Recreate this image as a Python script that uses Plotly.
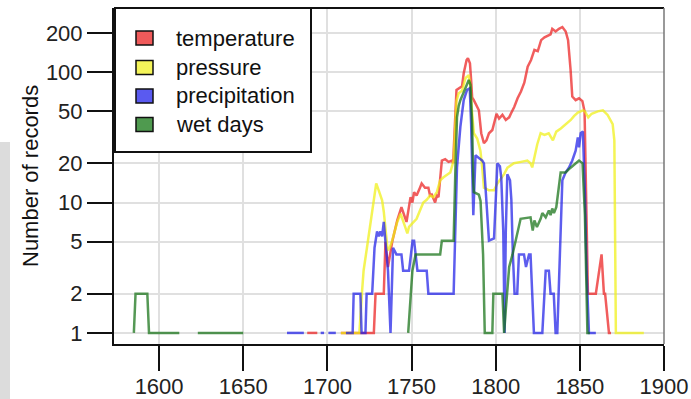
import plotly.graph_objects as go

# Number of station records per year (log scale); None marks years with no records
series_names = ["temperature", "pressure", "precipitation", "wet days"]

temp_years = [1688, 1694, None, 1708, 1727.6, 1728.6, 1733.5, 1734.5, 1736, 1738.5, 1741.5, 1744,
              1747, 1749.4, 1750.5, 1751.5, 1753, 1755, 1756, 1758, 1760, 1761, 1762, 1764, 1765,
              1766, 1768, 1770, 1772, 1774, 1774.7, 1776.7, 1778, 1780, 1781, 1782.7, 1783.5, 1784.7,
              1785.4, 1786, 1787, 1789, 1790, 1791.4, 1793, 1794.5, 1796, 1798, 1799.3, 1800.5, 1802,
              1804, 1806, 1808, 1809, 1811, 1813, 1815, 1817, 1819, 1821, 1823, 1825, 1827, 1829,
              1830.7, 1832.6, 1833.6, 1835.6, 1837.6, 1839.6, 1841.6, 1843, 1844.5, 1845.5, 1847.5,
              1849.5, 1851.5, 1852.8, 1854, 1854.8, 1859.5, 1862.9, 1864.3, 1865, 1867.3, 1868.5]
temp_counts = [1, 1, None, 1, 1, 2, 2, 5, 3.2, 5, 7.3, 9.2,
               7.1, 11, 10, 12, 11.3, 13, 14, 13, 13, 11.3, 11.5, 10, 11.3,
               11, 21, 21.5, 20.5, 21, 20, 73, 75, 78, 98, 124, 128, 117,
               87, 64, 61, 54, 51, 34, 28.5, 30, 34, 36, 41, 48, 44,
               47, 43, 45, 48, 54, 63, 71, 83, 110, 124, 148, 145, 176, 185,
               190, 195, 215, 205, 215, 222, 205, 176, 104, 65, 61,
               63, 60, 50, 7.3, 2, 2, 4, 2, 2, 1, 1]

pres_years = [1708, 1719, 1720.5, 1721.5, 1723.5, 1725.5, 1727, 1729, 1730.5, 1732.5, 1733.5, 1734.5,
              1735.8, 1737, 1738.5, 1741.5, 1743.5, 1746.4, 1747.5, 1748.5, 1751, 1753, 1755, 1757,
              1759, 1761, 1763, 1765, 1767, 1769, 1773, 1775, 1776.7, 1778, 1780, 1782, 1784, 1785,
              1785.7, 1787, 1789, 1790.9, 1792, 1793, 1796, 1799, 1801, 1805, 1807, 1810.8, 1815,
              1818.8, 1820.7, 1821.7, 1824.7, 1826.7, 1829, 1831.5, 1834, 1836, 1838.7, 1841.7,
              1844.6, 1846.5, 1848.8, 1851.8, 1853, 1855, 1857, 1860.7, 1863.7, 1866.5, 1869.5,
              1870.5, 1871.4, 1888]
pres_counts = [1, 1, 2, 3, 4.5, 6.9, 9.8, 14, 12.4, 10.4, 8.5, 6.4,
               4.3, 4.5, 5.1, 7.1, 8.2, 6.4, 5.8, 6.5, 7, 7.5, 8.7, 10,
               10.5, 11.3, 11, 12, 14.8, 15.6, 17, 21, 60, 69, 72, 90, 95, 77,
               54, 34, 31, 25, 18.6, 13, 12.4, 12.4, 14, 16.5, 18.5, 20, 20.5,
               21, 20, 18.6, 28, 34, 33, 34, 30, 35, 37, 40,
               43, 46, 49, 51, 50, 45, 48, 50, 51, 47, 40,
               30, 1, 1]

prec_years = [1676, 1686, None, 1696, 1698, None, 1700.6, 1705, None, 1711, 1715, 1715.6, 1719.6,
              1720.3, 1722.6, 1723.3, 1726.6, 1728, 1729.5, 1730.5, 1731.5, 1732.5, 1733.5, 1734.5,
              1736, 1737.5, 1739, 1741, 1744, 1745, 1748.5, 1750.6, 1751.5, 1753.5, 1759, 1760,
              1775, 1777, 1779, 1781, 1783, 1784.6, 1785.4, 1786.7, 1787.5, 1788, 1790, 1792, 1793,
              1795, 1796, 1799, 1800, 1801, 1802.5, 1803.3, 1804.5, 1805.3, 1806, 1806.9, 1808.5,
              1809.3, 1810.2, 1811.2, 1812.8, 1813.8, 1816.8, 1818, 1819.8, 1820.7, 1821.7, 1822.7,
              1827.7, 1829.7, 1831.6, 1832.6, 1834.5, 1835.6, 1836.6, 1838.6, 1839.6, 1841.5,
              1843.5, 1845.5, 1847.5, 1848.8, 1849.5, 1850.5, 1851.8, 1853, 1854, 1855.4, 1859.5]
prec_counts = [1, 1, None, 1, 1, None, 1, 1, None, 1, 1, 2, 2,
               1, 1, 2, 2, 4.5, 6, 5.5, 6, 5.5, 7.1, 5,
               3, 1, 4.5, 4, 4, 3, 3, 5.1, 5.1, 3, 3, 2,
               2, 18.6, 38, 61, 73, 75, 40, 8, 20, 23, 22, 21, 20,
               8.2, 5.1, 5.3, 10.5, 20, 19, 15.5, 6, 1, 6, 16.5, 14.8,
               10.5, 4, 2, 2, 4, 4, 3.2, 4, 4, 2, 1,
               1, 3, 3, 2, 2, 1, 1, 5.1, 14.8, 17,
               18.5, 21, 25, 31.6, 26.5, 34, 35, 12, 3, 1, 1]

wet_years = [1585, 1586, 1593, 1594, 1612, None, 1623, 1650, None, 1748, 1750.5, 1752.4, 1767, 1768,
             1775, 1776, 1777, 1778, 1779, 1781, 1783, 1784, 1785, 1786, 1786.7, 1787, 1790, 1791,
             1792.5, 1793.5, 1798, 1798.6, 1804, 1805, 1806, 1808, 1810, 1811.8, 1814.8, 1820.7,
             1822, 1823, 1824.5, 1826.7, 1827.7, 1829.7, 1831.6, 1832.6, 1833.6, 1834.6, 1836,
             1838.6, 1841.5, 1844.5, 1847.5, 1849.5, 1851.6, 1853, 1854.5, 1856]
wet_counts = [1, 2, 2, 1, 1, None, 1, 1, None, 1, 3, 4, 4, 5.1,
              5.1, 17, 45, 55, 61, 70, 80, 87, 80, 40, 14, 12, 11.5, 10.3,
              4, 1, 1, 2, 2, 1, 1.5, 3.2, 4, 5.1, 7.5, 7.7,
              6.1, 7.3, 6.5, 7.5, 8.3, 7.7, 8.7, 8, 9, 8.3, 9.2,
              17, 17, 18.5, 20, 21, 20, 8, 1, 1]

x_ticks = [1600, 1650, 1700, 1750, 1800, 1850, 1900]
y_ticks = [1, 2, 5, 10, 20, 50, 100, 200]

line_colors = ["rgba(235,30,30,0.72)", "rgba(240,240,20,0.72)",
               "rgba(30,30,232,0.72)", "rgba(20,112,20,0.72)"]
swatch_colors = ["#f05a5a", "#f5f55a", "#5a5af0", "#4f9a4f"]

FONT = "Liberation Sans, Arial, Helvetica, sans-serif"

fig = go.Figure()
for yrs, vals, col in zip([temp_years, pres_years, prec_years, wet_years],
                          [temp_counts, pres_counts, prec_counts, wet_counts],
                          line_colors):
    fig.add_trace(go.Scatter(x=yrs, y=vals, mode="lines", connectgaps=False,
                             line=dict(color=col, width=2.5), showlegend=False,
                             hoverinfo="skip"))

# plot-area geometry in pixels, used to place the hand-built legend
W, H = 691, 399
ML, MR, MT, MB = 114, 27, 8, 55
PW, PH = W - ML - MR, H - MT - MB


def px(x):
    return (x - ML) / PW


def py(y):
    return (H - MB - y) / PH


shapes = [
    # light strip at the far left edge
    dict(type="rect", xref="paper", yref="paper", x0=px(0), x1=px(10), y0=py(400), y1=py(142),
         fillcolor="#dcdcdc", line=dict(width=0), layer="below"),
    # top and right frame
    dict(type="line", xref="paper", yref="paper", x0=0, x1=1, y0=1, y1=1,
         line=dict(color="#111", width=2), layer="above"),
    dict(type="line", xref="paper", yref="paper", x0=1, x1=1, y0=0, y1=1,
         line=dict(color="#777", width=1.5), layer="above"),
    # legend box
    dict(type="rect", xref="paper", yref="paper", x0=px(115), x1=px(311), y0=py(152), y1=py(8),
         fillcolor="white", line=dict(color="#111", width=2), layer="above"),
]
annotations = []
row_centers = [38, 67.5, 96, 124.5]
for name, col, cy in zip(series_names, swatch_colors, row_centers):
    shapes.append(dict(type="rect", xref="paper", yref="paper", x0=px(136), x1=px(153),
                       y0=py(cy + 7), y1=py(cy - 7), fillcolor=col,
                       line=dict(color="#111", width=1.5), layer="above"))
    annotations.append(dict(text=name, xref="paper", yref="paper", x=px(174), y=py(cy),
                            xanchor="left", yanchor="middle", showarrow=False,
                            font=dict(family=FONT, size=22, color="#111")))

annotations.append(dict(text="Number of records", xref="paper", yref="paper", x=px(30), y=py(176),
                        textangle=-90, xanchor="center", yanchor="middle", showarrow=False,
                        font=dict(family=FONT, size=22, color="#111")))

axis_common = dict(showline=True, linecolor="#111", linewidth=2, ticks="outside", ticklen=25,
                   tickwidth=2, tickcolor="#111", showgrid=True, gridcolor="#e0e0e0",
                   gridwidth=2, zeroline=False, automargin=False,
                   tickfont=dict(family=FONT, size=22, color="#222"))

fig.update_layout(
    width=W, height=H,
    margin=dict(l=ML, r=MR, t=MT, b=MB, pad=0, autoexpand=False),
    paper_bgcolor="white", plot_bgcolor="white",
    showlegend=False,
    xaxis=dict(range=[1573.2, 1900], tickvals=x_ticks, ticktext=[str(v) for v in x_ticks],
               ticklabelstandoff=-3, **axis_common),
    yaxis=dict(type="log", range=[-0.085, 2.492], tickvals=y_ticks,
               ticktext=[str(v) for v in y_ticks], **axis_common),
    shapes=shapes,
    annotations=annotations,
)

fig.write_html("out.html")
